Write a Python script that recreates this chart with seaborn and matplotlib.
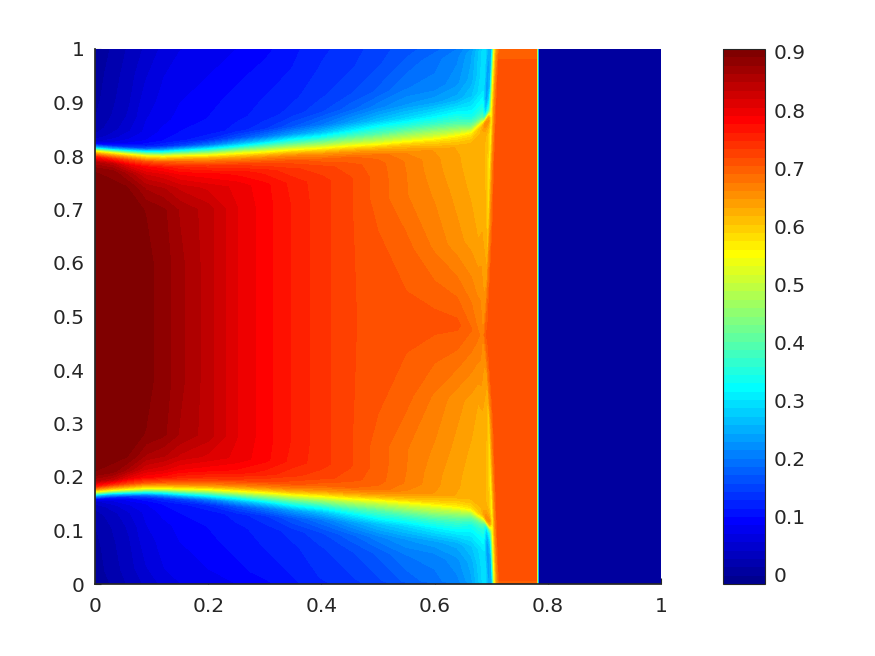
import numpy as np
import matplotlib
matplotlib.use("Agg")
import matplotlib.pyplot as plt
from matplotlib.colors import ListedColormap, Normalize
import seaborn as sns

sns.set_theme(style="ticks", rc={"axes.edgecolor": "#262626", "xtick.color": "#262626",
                                 "ytick.color": "#262626", "text.color": "#262626"})
plt.rcParams["font.family"] = ["DejaVu Sans"]

VMIN, VMAX, N_BANDS = -0.0155, 0.905, 64
tick_values = [0, 0.2, 0.4, 0.6, 0.8, 1]
tick_labels = ["0", "0.2", "0.4", "0.6", "0.8", "1"]
y_tick_values = [0, 0.1, 0.2, 0.3, 0.4, 0.5, 0.6, 0.7, 0.8, 0.9, 1]
y_tick_labels = ["0", "0.1", "0.2", "0.3", "0.4", "0.5", "0.6", "0.7", "0.8", "0.9", "1"]
cbar_ticks = [0, 0.1, 0.2, 0.3, 0.4, 0.5, 0.6, 0.7, 0.8, 0.9]
cbar_labels = ["0", "0.1", "0.2", "0.3", "0.4", "0.5", "0.6", "0.7", "0.8", "0.9"]

# stations along x: fixed, then relative to the curved front, then fixed again
x_left = [0, .03, .06, .09, .12, .15, .2, .25, .3, .35, .4, .45, .5, .55, .6, .64, .665]
x_shock = [-.0165, -.0106, -.0047, 0, .004, .009]
x_right = [.725, .75, .77, .7795, .782, .7845, .787, 1.0]

# curved front of the vertical discontinuity
shock_y = [0, .1, .2, .3, .4, .465, .6, .77, .89, 1]
shock_x = [.706, .7025, .699, .696, .692, .69, .693, .697, .701, .7055]

# horizontal layer position per station
front_upper = [.808, .805, .802, .799, .798, .799, .800, .803, .806, .810, .813, .817, .820, .825, .830, .836, .842,
               .852, .865, .875, .875, .875, .875, .875, .875, .875, .875, .875, .875, .875, .875]
front_lower = [.173, .176, .178, .180, .180, .179, .178, .175, .172, .168, .165, .161, .158, .154, .149, .145, .140,
               .132, .118, .108, .108, .108, .108, .108, .108, .108, .108, .108, .108, .108, .108]
center_y = [.49] * 15 + [.485, .475, .465, .465, .465, .465, .465, .465, .465, .465, .47, .47, .47, .47, .47, .47]

# row offsets from the layer: centre, inner side, layer, outer side, wall
row_offsets = [None, -.2, -.1, -.06, -.035, -.02, -.01, -.004, 0, .004, .008, .014, .02, .03, .045, .07, .10, .15, None]

# one column per station, rows from centre line to wall
left_columns = [
    [.895, .895, .895, .895, .89, .85, .76, .65, .56, .42, .25, .10, .05, .03, .02, .012, .008, .004, 0],
    [.895, .895, .895, .895, .885, .84, .74, .64, .56, .42, .26, .12, .07, .05, .035, .028, .024, .02, .015],
    [.895, .895, .895, .89, .855, .80, .72, .63, .56, .44, .30, .14, .09, .07, .055, .045, .04, .035, .03],
    [.895, .895, .89, .86, .82, .78, .71, .62, .56, .46, .34, .18, .11, .085, .075, .07, .065, .055, .045],
    [.885, .885, .88, .85, .81, .77, .70, .62, .56, .47, .36, .22, .13, .10, .09, .08, .075, .07, .06],
    [.866, .866, .86, .83, .79, .75, .69, .62, .56, .48, .38, .25, .15, .11, .10, .09, .085, .08, .07],
    [.84, .84, .84, .815, .78, .74, .68, .62, .56, .49, .41, .30, .20, .13, .105, .10, .095, .085, .075],
    [.805, .805, .805, .80, .77, .73, .67, .61, .56, .50, .43, .33, .25, .165, .12, .11, .105, .095, .085],
    [.782, .782, .782, .78, .755, .72, .665, .61, .56, .505, .45, .37, .29, .20, .14, .12, .115, .105, .095],
    [.759, .759, .759, .755, .735, .71, .66, .61, .56, .51, .46, .39, .33, .235, .17, .135, .125, .115, .11],
    [.738, .738, .738, .738, .725, .695, .65, .60, .56, .515, .47, .41, .35, .27, .20, .155, .14, .13, .125],
    [.72, .72, .72, .72, .71, .69, .645, .60, .56, .52, .48, .43, .38, .31, .235, .18, .155, .14, .135],
    [.712, .708, .697, .697, .695, .685, .64, .60, .56, .525, .49, .45, .40, .35, .27, .21, .175, .155, .15],
    [.71, .695, .676, .675, .673, .66, .625, .595, .56, .53, .50, .46, .42, .36, .29, .23, .20, .175, .165],
    [.71, .672, .658, .652, .65, .645, .61, .585, .56, .53, .50, .47, .43, .37, .31, .24, .205, .195, .18],
    [.708, .652, .64, .635, .633, .63, .60, .58, .56, .53, .50, .46, .42, .37, .32, .25, .225, .21, .20],
    [.69, .64, .628, .625, .625, .62, .60, .58, .56, .52, .48, .43, .39, .34, .31, .27, .25, .24, .23],
]
shock_columns = [
    [.68, .63, .625, .62, .62, .62, .62, .62, .62, .60, .56, .47, .40, .36, .33, .30, .30, .30, .30],
    [.675, .63, .625, .62, .62, .63, .65, .65, .60, .50, .40, .30, .27, .24, .22, .22, .23, .24, .24],
    [.66, .62, .60, .60, .60, .62, .65, .63, .58, .50, .40, .35, .33, .30, .28, .26, .26, .26, .26],
    [.70, .58, .56, .55, .55, .55, .55, .55, .55, .55, .55, .55, .55, .55, .55, .55, .55, .55, .55],
    [.71, .66, .65, .65, .65, .65, .65, .65, .65, .65, .65, .65, .65, .65, .65, .65, .65, .65, .65],
    [.71, .71, .71, .71, .71, .71, .71, .71, .71, .71, .71, .71, .71, .71, .71, .71, .708, .69, .69],
]
plateau_column = [.71, .71, .71, .71, .71, .71, .71, .71, .71, .71, .71, .71, .71, .71, .71, .71, .708, .69, .69]
contact_column = [.35] * 19
outer_column = [0.0] * 19
right_columns = [plateau_column, plateau_column, plateau_column, plateau_column,
                 contact_column, outer_column, outer_column, outer_column]

half = np.array(left_columns + shock_columns + right_columns).T
field = np.vstack([half[::-1], half[1:]])

n_left, n_shock, n_right = len(x_left), len(x_shock), len(x_right)
n_cols = n_left + n_shock + n_right
last = len(row_offsets) - 1
Y = np.zeros((len(row_offsets) * 2 - 1, n_cols))
for c in range(n_cols):
    lower = [0.0 if i == last else center_y[c] if d is None else max(front_lower[c] - d, .005)
             for i, d in enumerate(row_offsets)]
    upper = [1.0 if i == last else center_y[c] if d is None else min(front_upper[c] + d, .995)
             for i, d in enumerate(row_offsets)]
    Y[:, c] = lower[::-1] + upper[1:]

X = np.zeros_like(Y)
X[:, :n_left] = x_left
for k, off in enumerate(x_shock):
    X[:, n_left + k] = np.interp(Y[:, n_left + k], shock_y, shock_x) + off
X[:, n_left + n_shock:] = x_right

# Octave/MATLAB-style jet with 64 entries
t = (np.arange(N_BANDS) + 1) / N_BANDS
jet64 = ListedColormap(np.column_stack([
    np.clip(np.minimum(4 * t - 1.5, -4 * t + 4.5), 0, 1),
    np.clip(np.minimum(4 * t - 0.5, -4 * t + 3.5), 0, 1),
    np.clip(np.minimum(4 * t + 0.5, -4 * t + 2.5), 0, 1),
]))

W, H = 875, 656
fig = plt.figure(figsize=(W / 100, H / 100), dpi=100, facecolor="white")
ax = fig.add_axes([95 / W, (H - 584) / H, 566 / W, 535 / H])
cax = fig.add_axes([723 / W, (H - 584) / H, 42 / W, 535 / H])
ax.set_facecolor("#40e0c0")

levels = np.linspace(VMIN, VMAX, N_BANDS + 1)
ax.pcolormesh(X, Y, field, shading="gouraud", cmap=jet64, norm=Normalize(VMIN, VMAX))
cs = ax.contourf(X, Y, field, levels=levels, cmap=jet64, antialiased=False)
ax.set_xlim(0, 1)
ax.set_ylim(0, 1)
ax.set_xticks(tick_values, tick_labels)
ax.set_yticks(y_tick_values, y_tick_labels)
ax.tick_params(direction="in", length=4, width=0.8, labelsize=14.5)
ax.tick_params(axis="x", pad=9)
ax.tick_params(axis="y", pad=7.5)
sns.despine(ax=ax)

cb = fig.colorbar(cs, cax=cax)
cb.set_ticks(cbar_ticks, labels=cbar_labels)
cb.ax.tick_params(direction="in", length=4, width=0.8, labelsize=14.5, pad=6, right=True)
cb.outline.set_edgecolor("#262626")
cb.outline.set_linewidth(0.8)
cb.ax.minorticks_off()

fig.savefig("out.png", dpi=100)
